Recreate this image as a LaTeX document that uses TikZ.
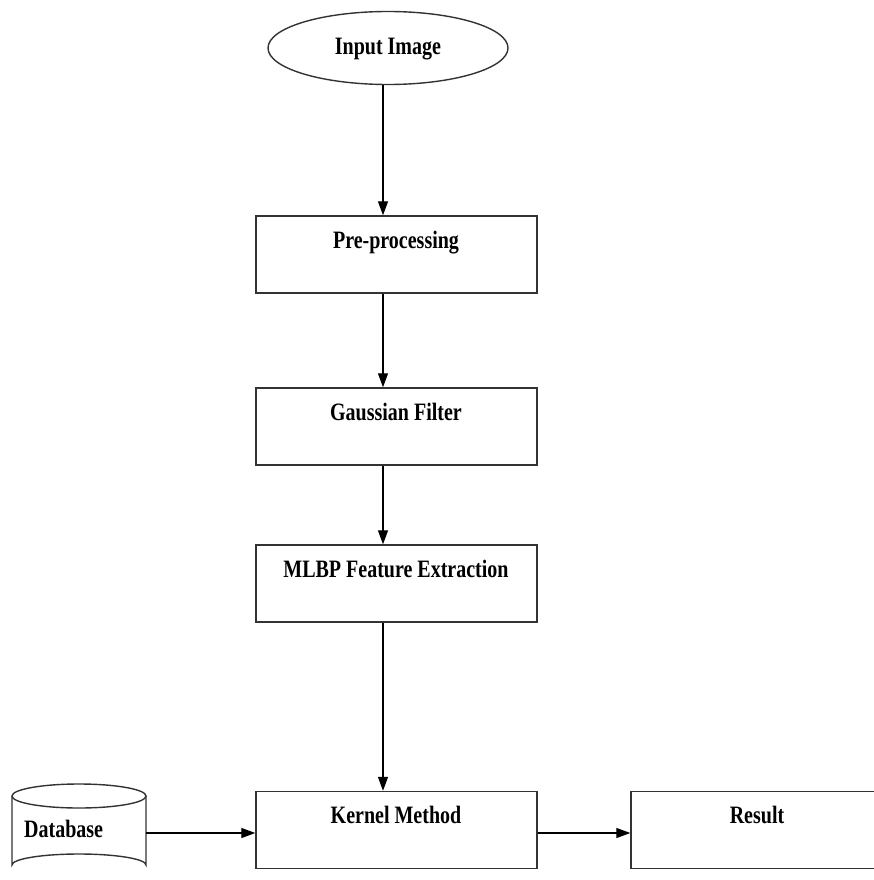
\documentclass[tikz,border=0pt]{standalone}
\usepackage{fontspec}
\setmainfont{Liberation Serif}[FakeStretch=0.8]
\usetikzlibrary{shapes.geometric,arrows.meta}
\begin{document}
\begin{tikzpicture}[x=1pt,y=-1pt,
  ln/.style={line width=1.4pt,draw=black!80},
  box/.style={ln,rectangle,minimum width=281pt,minimum height=77pt,inner sep=0pt},
  txt/.style={font=\fontsize{25}{25}\selectfont\bfseries,anchor=base,inner sep=0pt},
  arr/.style={line width=1.3pt,-{Triangle[length=14pt,width=10pt]}}]
\useasboundingbox (0,0) rectangle (874,880);
% nodes
\node[ln,ellipse,minimum width=240pt,minimum height=73pt,inner sep=0pt] (inp) at (388,48) {};
\node[txt] (inpT) at (388,55) {Input Image};
\node[box] (pre) at (396.5,254.5) {};
\node[txt] (preT) at (396,248) {Pre-processing};
\node[box] (gau) at (396.5,426.5) {};
\node[txt] (gauT) at (396,420) {Gaussian Filter};
\node[box] (mlbp) at (396.5,583.5) {};
\node[txt] (mlbpT) at (396,577) {MLBP Feature Extraction};
\node[box] (ker) at (396.5,830) {};
\node[txt] (kerT) at (396,823) {Kernel Method};
\node[ln,rectangle,minimum width=252pt,minimum height=77pt,inner sep=0pt] (res) at (757,830) {};
\node[txt] (resT) at (757,823) {Result};
% database cylinder
\draw[ln] (12,796) -- (12,865) arc[start angle=180,end angle=360,x radius=67,y radius=11] -- (146,796);
\draw[ln] (79,796) ellipse[x radius=67,y radius=12];
\node[txt,anchor=base west] (dbT) at (24,837) {Database};
\coordinate (db) at (146,833);
\coordinate (ax) at (383,0);
% connectors
\draw[arr] (inp.south -| ax) -- (pre.north -| ax);
\draw[arr] (pre.south -| ax) -- (gau.north -| ax);
\draw[arr] (gau.south -| ax) -- (mlbp.north -| ax);
\draw[arr] (mlbp.south -| ax) -- (ker.north -| ax);
\draw[arr] (db) -- (ker.west |- db);
\draw[arr] (ker.east |- db) -- (res.west |- db);
\end{tikzpicture}
\end{document}
